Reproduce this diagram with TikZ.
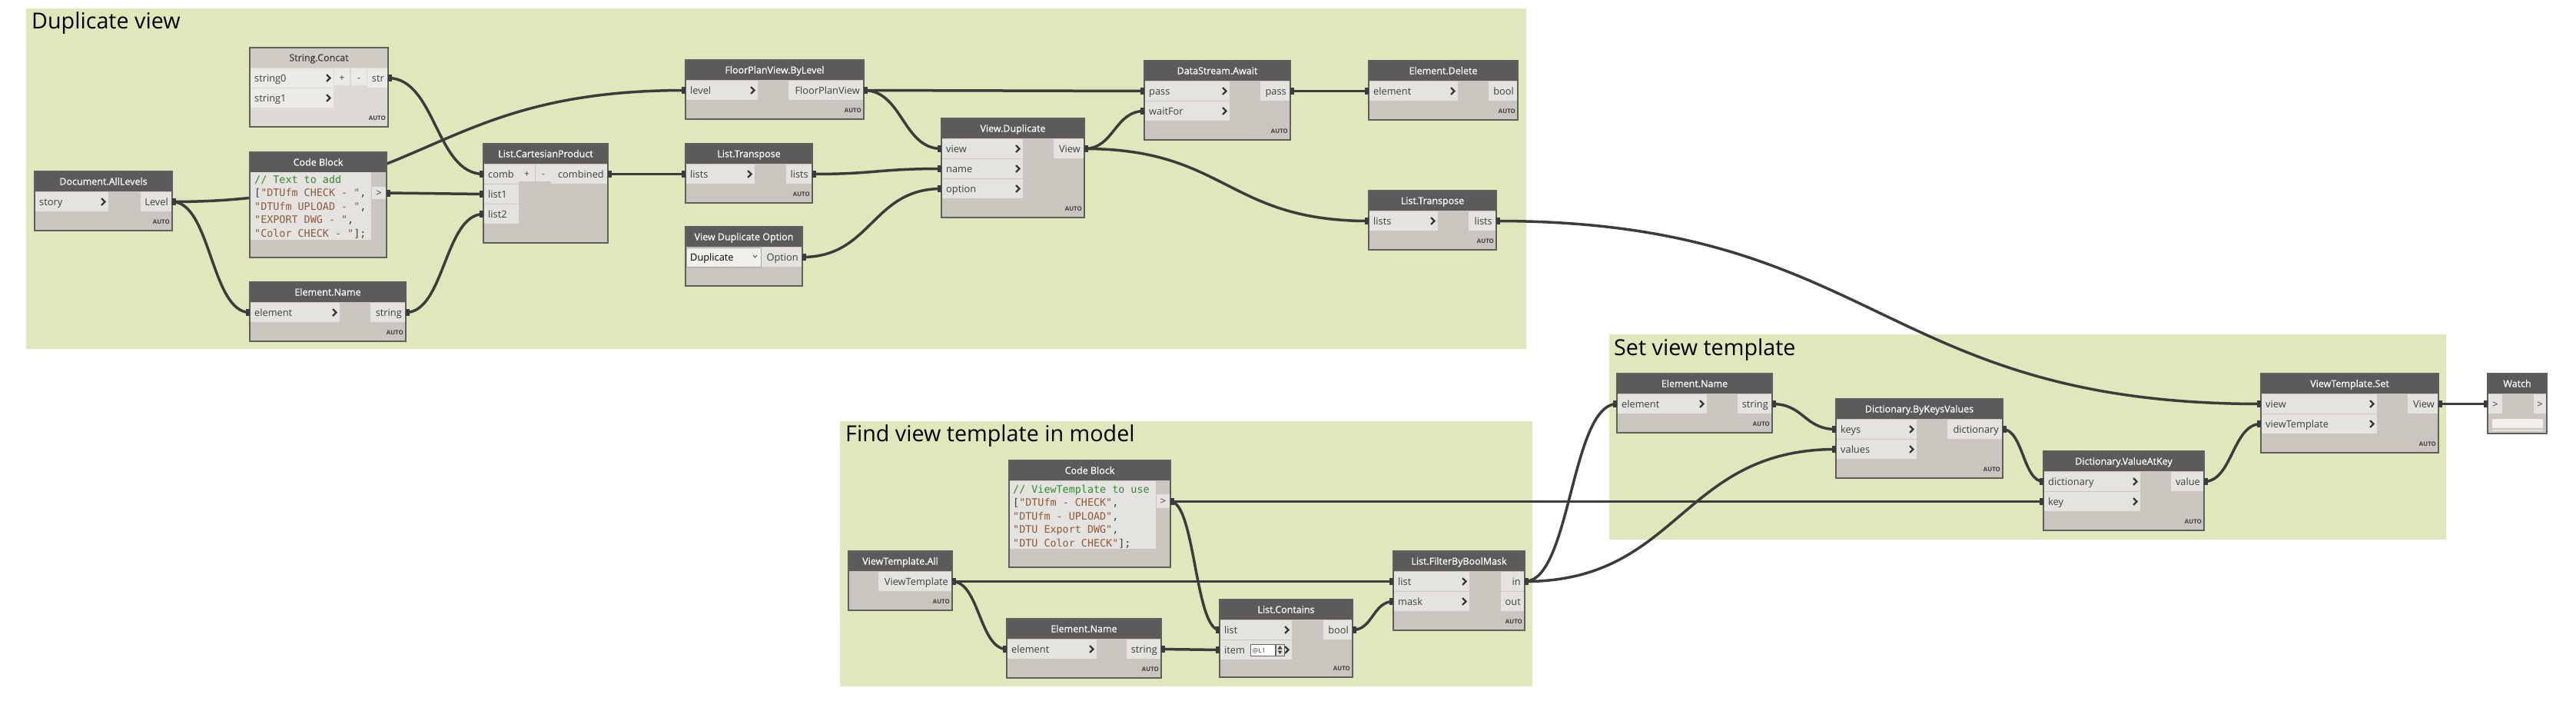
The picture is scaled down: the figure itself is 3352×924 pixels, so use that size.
\documentclass[tikz,border=0pt]{standalone}
\usepackage{fontspec}
\setmainfont{Open Sans}
\newfontfamily\tfont{Open Sans}[FakeBold=0.6]
\newfontfamily\codefont{DejaVu Sans Mono}
\usetikzlibrary{calc}
\pgfdeclarelayer{bg}\pgfdeclarelayer{wl}
\pgfsetlayers{bg,wl,main}
\definecolor{grp}{RGB}{224,232,187}
\definecolor{hdr}{RGB}{93,91,89}
\definecolor{body}{RGB}{202,197,190}
\definecolor{rowc}{RGB}{229,227,223}
\definecolor{bordc}{RGB}{95,95,95}
\definecolor{wirec}{RGB}{60,60,60}
\definecolor{txt}{RGB}{62,62,62}
\definecolor{chevc}{RGB}{55,55,55}
\definecolor{lhdr}{RGB}{208,204,198}
\definecolor{lbody}{RGB}{221,218,213}
\definecolor{lrow}{RGB}{237,235,232}
\definecolor{cmt}{RGB}{46,139,46}
\definecolor{strc}{RGB}{140,90,60}
\definecolor{ddc}{RGB}{241,240,237}
\newcommand\hcol{hdr}\newcommand\bcol{body}\newcommand\rcol{rowc}\newcommand\tcol{white}
% node frame: name x y w h inw outw title
\newcommand\dnode[8]{%
  \xdef\Dn{#1}\xdef\Dx{#2}\xdef\Dy{#3}\xdef\Dw{#4}\xdef\Dh{#5}\xdef\Di{#6}\xdef\Do{#7}%
  \node[fill=\bcol, inner sep=0, outer sep=0, minimum width=#4, minimum height=#5, anchor=north west] (#1) at (#2,#3) {};
  \fill[\hcol] (#2,#3) rectangle ++(#4,26);
  \node[ttl, text=\tcol, anchor=base] (#1-t) at ({#2+#4/2},#3+17.5) {#8};
}
\newcommand\inp[3][1]{%
  \pgfmathsetmacro\Dr{\Dy+27+26*(#2-1)}%
  \fill[\rcol] (\Dx,\Dr) rectangle ++(\Di,25);
  \node[plab, anchor=base west] (\Dn-il#2) at (\Dx+6,\Dr+17) {#3};
  \ifnum#1=1 \draw[chev] (\Dx+\Di-9,\Dr+8) -- ++(4.5,4.5) -- ++(-4.5,4.5);\fi
  \coordinate (\Dn-i#2) at (\Dx,\Dr+12.5);
}
\newcommand\outp[2]{%
  \pgfmathsetmacro\Dr{\Dy+27+26*(#1-1)}%
  \fill[\rcol] (\Dx+\Dw-\Do,\Dr) rectangle ++(\Do,25);
  \node[plab, anchor=base east] (\Dn-ol#1) at (\Dx+\Dw-5,\Dr+17) {#2};
  \coordinate (\Dn-o#1) at (\Dx+\Dw,\Dr+12.5);
}
\newcommand\dend[1][1]{%
  \draw[bordc, line width=1.3] (\Dx,\Dy) rectangle ++(\Dw,\Dh);
  \ifnum#1=1 \node[autol, anchor=base east] (\Dn-auto) at (\Dx+\Dw-3,\Dy+\Dh-9) {AUTO};\fi
}
\newcommand\wire[2]{%
  \coordinate (wm) at ($(#1)!0.5!(#2)$);
  \begin{pgfonlayer}{wl}\draw[wire] (#1) .. controls (wm |- #1) and (wm |- #2) .. (#2);\end{pgfonlayer}
  \fill[wirec] (#1) ++(0,-4.5) rectangle ++(5,9);
  \fill[wirec] (#2) ++(-5,-4.5) rectangle ++(5,9);
}
\begin{document}
\begin{tikzpicture}[x=1pt,y=-1pt,
  ttl/.style={font=\tfont\fontsize{12.5}{14}\selectfont, inner sep=0},
  plab/.style={font=\fontsize{12.8}{14}\selectfont, text=txt, inner sep=0},
  autol/.style={font=\bfseries\fontsize{7.8}{9}\selectfont, text=txt, inner sep=0},
  code/.style={font=\codefont\fontsize{13.4}{15}\selectfont, inner sep=0, anchor=base west, text=txt},
  gtitle/.style={font=\fontsize{28.7}{32}\selectfont, inner sep=0, anchor=base west, text=black},
  chev/.style={draw=chevc, line width=2.3},
  wire/.style={draw=wirec, line width=3.5},
  btn/.style={font=\fontsize{12}{14}\selectfont, text=txt, inner sep=0, anchor=base},
]
\useasboundingbox (0,0) rectangle (3352,924);
\begin{pgfonlayer}{bg}
\fill[white] (0,0) rectangle (3352,924);
\fill[grp] (34,11) rectangle (1986,454);
\node[gtitle] (g1) at (41,37.5) {Duplicate view};
\fill[grp] (1093,548) rectangle (1994,893);
\node[gtitle] (g2) at (1100,574) {Find view template in model};
\fill[grp] (2094,435) rectangle (3183,702);
\node[gtitle] (g3) at (2100,462) {Set view template};
\end{pgfonlayer}

% ---------- Duplicate view ----------
\dnode{dal}{45}{223}{179}{77}{96}{41}{Document.AllLevels}
\inp{1}{story}\outp{1}{Level}\dend

\renewcommand\hcol{lhdr}\renewcommand\bcol{lbody}\renewcommand\rcol{lrow}\renewcommand\tcol{txt}
\dnode{sc}{325}{62}{180}{103}{109}{27}{String.Concat}
\inp{1}{string0}\inp{2}{string1}\outp{1}{str}
\fill[lrow] (435,89) rectangle (455,111);
\node[btn] (sc-plus) at (445,105) {+};
\fill[lrow] (457,89) rectangle (477,111);
\node[btn] (sc-minus) at (467,105) {-};
\dend
\renewcommand\hcol{hdr}\renewcommand\bcol{body}\renewcommand\rcol{rowc}\renewcommand\tcol{white}

\dnode{cb1}{325}{198}{178}{137}{0}{0}{Code Block}
\fill[rowc] (326,224) rectangle (483,312);
\fill[rowc] (484,243) rectangle (502,259);
\node[plab, anchor=base] (cb1-gt) at (493,255) {>};
\coordinate (cb1-o) at (503,251);
\node[code] (cb1-l1) at (331,238) {\textcolor{cmt}{// Text to add}};
\node[code] (cb1-l2) at (331,255.5) {[\textcolor{strc}{"DTUfm CHECK - "},};
\node[code] (cb1-l3) at (331,273) {\textcolor{strc}{"DTUfm UPLOAD - "},};
\node[code] (cb1-l4) at (331,290.5) {\textcolor{strc}{"EXPORT DWG - "},};
\node[code] (cb1-l5) at (331,308) {\textcolor{strc}{"Color CHECK - "}];};
\dend[0]

\dnode{en1}{325}{367}{203}{77}{117}{46}{Element.Name}
\inp{1}{element}\outp{1}{string}\dend

\dnode{cp}{629}{187}{162}{129}{46}{74}{List.CartesianProduct}
\inp[0]{1}{comb}\inp[0]{2}{list1}\inp[0]{3}{list2}\outp{1}{combined}
\fill[rowc] (675,214) rectangle (696,236);
\node[btn] (cp-plus) at (685.5,230) {+};
\fill[rowc] (697,214) rectangle (717,236);
\node[btn] (cp-minus) at (707,230) {-};
\dend[0]

\dnode{fpv}{892}{78}{232}{77}{94}{98}{FloorPlanView.ByLevel}
\inp{1}{level}\outp{1}{FloorPlanView}\dend

\dnode{lt1}{892}{187}{165}{77}{90}{34}{List.Transpose}
\inp{1}{lists}\outp{1}{lists}\dend

\dnode{vdo}{892}{295}{152}{77}{0}{53}{View Duplicate Option}
\fill[ddc] (893,322) rectangle (990,347);
\draw[gray!70, line width=0.8] (893,322) rectangle (990,347);
\node[plab, text=black, anchor=base west] (vdo-dd) at (898,339) {Duplicate};
\draw[txt, line width=0.8] (980,332) -- (982.5,335) -- (985,332);
\outp{1}{Option}\dend[0]

\dnode{vd}{1225}{154}{186}{129}{106}{40}{View.Duplicate}
\inp{1}{view}\inp{2}{name}\inp{3}{option}\outp{1}{View}\dend

\dnode{dsa}{1489}{79}{190}{103}{111}{39}{DataStream.Await}
\inp{1}{pass}\inp{2}{waitFor}\outp{1}{pass}\dend

\dnode{ed}{1781}{79}{194}{77}{116}{38}{Element.Delete}
\inp{1}{element}\outp{1}{bool}\dend

\dnode{lt2}{1781}{248}{166}{77}{90}{36}{List.Transpose}
\inp{1}{lists}\outp{1}{lists}\dend

% ---------- Find view template ----------
\dnode{vta}{1104}{717}{135}{77}{0}{96}{ViewTemplate.All}
\outp{1}{ViewTemplate}\dend

\dnode{cb2}{1313}{599}{210}{139}{0}{0}{Code Block}
\fill[rowc] (1314,626) rectangle (1504,714);
\fill[rowc] (1505,643) rectangle (1522,661);
\node[plab, anchor=base] (cb2-gt) at (1513.5,656.5) {>};
\coordinate (cb2-o) at (1523,652.5);
\node[code] (cb2-l1) at (1318,641) {\textcolor{cmt}{// ViewTemplate to use}};
\node[code] (cb2-l2) at (1318,658.5) {[\textcolor{strc}{"DTUfm - CHECK"},};
\node[code] (cb2-l3) at (1318,676) {\textcolor{strc}{"DTUfm - UPLOAD"},};
\node[code] (cb2-l4) at (1318,693.5) {\textcolor{strc}{"DTU Export DWG"},};
\node[code] (cb2-l5) at (1318,711) {\textcolor{strc}{"DTU Color CHECK"}];};
\dend[0]

\dnode{en2}{1310}{805}{201}{77}{117}{45}{Element.Name}
\inp{1}{element}\outp{1}{string}\dend

\dnode{lc}{1587}{780}{173}{101}{94}{38}{List.Contains}
\inp{1}{list}\inp{2}{item}\outp{1}{bool}
\draw[fill=white, draw=gray!80!black, line width=0.8] (1627,838) rectangle (1659,853);
\node[font=\fontsize{8.5}{10}\selectfont, text=txt, inner sep=0, anchor=base west] (lc-lev) at (1629.5,849.5) {@L1};
\draw[fill=rowc, draw=gray!80!black, line width=0.8] (1660,838) rectangle (1671,853);
\fill[txt] (1662.5,844.5) -- (1668.5,844.5) -- (1665.5,840) -- cycle;
\fill[txt] (1662.5,846.5) -- (1668.5,846.5) -- (1665.5,851) -- cycle;
\dend

\dnode{fbm}{1813}{717}{171}{103}{99}{31}{List.FilterByBoolMask}
\inp{1}{list}\inp{2}{mask}\outp{1}{in}\outp{2}{out}\dend

% ---------- Set view template ----------
\dnode{en3}{2104}{486}{202}{77}{117}{45}{Element.Name}
\inp{1}{element}\outp{1}{string}\dend

\dnode{dkv}{2389}{519}{217}{103}{105}{72}{Dictionary.ByKeysValues}
\inp{1}{keys}\inp{2}{values}\outp{1}{dictionary}\dend

\dnode{dva}{2659}{587}{209}{103}{126}{43}{Dictionary.ValueAtKey}
\inp{1}{dictionary}\inp{2}{key}\outp{1}{value}\dend

\dnode{vts}{2942}{486}{231}{103}{151}{40}{ViewTemplate.Set}
\inp{1}{view}\inp{2}{viewTemplate}\outp{1}{View}\dend

\dnode{watch}{3237}{486}{77}{78}{0}{0}{Watch}
\fill[rowc] (3238,513) rectangle (3256,538);
\node[plab, anchor=base] (watch-il) at (3247,530) {>};
\fill[rowc] (3297,513) rectangle (3313,538);
\node[plab, anchor=base] (watch-ol) at (3305,530) {>};
\coordinate (watch-i) at (3237,525.5);
\fill[ddc] (3243,545) rectangle (3309,557);
\fill[rowc] (3243,559) rectangle (3309,561);
\dend[0]

% ---------- wires ----------
\wire{dal-o1}{fpv-i1}
\wire{dal-o1}{en1-i1}
\wire{cb1-o}{cp-i2}
\wire{sc-o1}{cp-i1}
\wire{en1-o1}{cp-i3}
\wire{cp-o1}{lt1-i1}
\wire{lt1-o1}{vd-i2}
\wire{fpv-o1}{dsa-i1}
\wire{fpv-o1}{vd-i1}
\wire{vdo-o1}{vd-i3}
\wire{vd-o1}{dsa-i2}
\wire{vd-o1}{lt2-i1}
\wire{dsa-o1}{ed-i1}
\wire{lt2-o1}{vts-i1}
\wire{vta-o1}{fbm-i1}
\wire{vta-o1}{en2-i1}
\wire{cb2-o}{lc-i1}
\wire{cb2-o}{dva-i2}
\wire{en2-o1}{lc-i2}
\wire{lc-o1}{fbm-i2}
\wire{fbm-o1}{en3-i1}
\wire{fbm-o1}{dkv-i2}
\wire{en3-o1}{dkv-i1}
\wire{dkv-o1}{dva-i1}
\wire{dva-o1}{vts-i2}
\wire{vts-o1}{watch-i}
\end{tikzpicture}
\end{document}
